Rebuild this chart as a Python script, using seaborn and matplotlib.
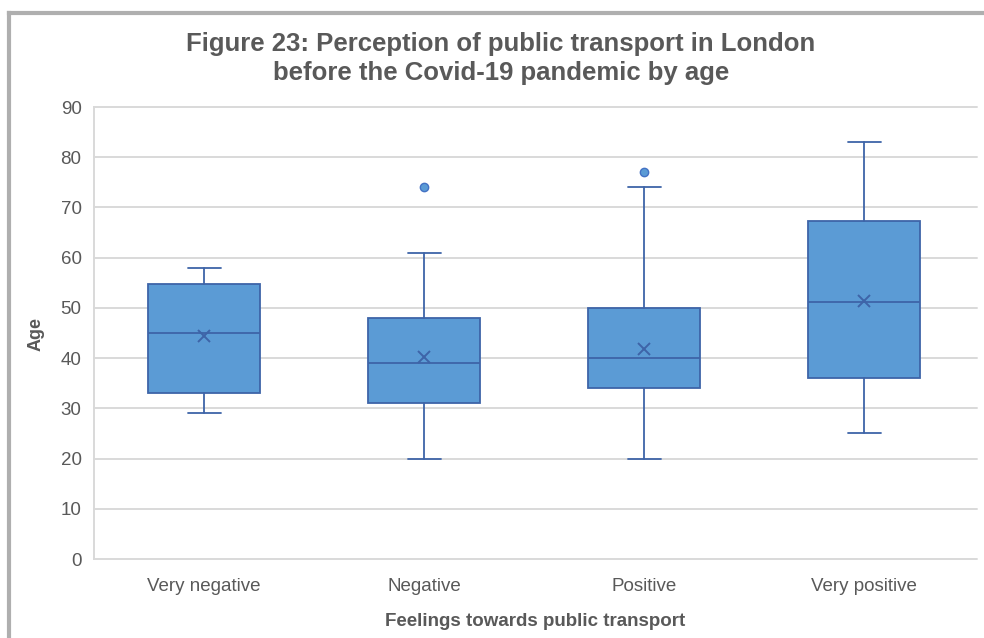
import numpy as np
import pandas as pd
import matplotlib
matplotlib.use("Agg")
import matplotlib.pyplot as plt
from matplotlib.lines import Line2D
import seaborn as sns

# Summary statistics of respondent age for each feeling category
categories = ["Very negative", "Negative", "Positive", "Very positive"]
whisker_low = [29, 20, 20, 25]
q1 = [33, 31, 34, 36]
median = [45, 39, 40, 51.25]
q3 = [54.75, 48, 50, 67.25]
whisker_high = [58, 61, 74, 83]
mean = [44.4, 40.2, 41.8, 51.4]
outliers = [[], [74], [77], []]

title = "Figure 23: Perception of public transport in London\nbefore the Covid-19 pandemic by age"
x_label = "Feelings towards public transport"
y_label = "Age"
y_ticks = list(range(0, 91, 10))

FILL = "#5B9BD5"
EDGE = "#3E64A8"
TEXT = "#595959"
GRID = "#D9D9D9"

sns.set_theme(style="white")
plt.rcParams["font.family"] = ["Liberation Sans", "DejaVu Sans"]

W, H = 984, 638
fig = plt.figure(figsize=(W / 100, H / 100), dpi=100)
ax = fig.add_axes([94 / W, 1 - 559 / H, (974 - 94) / W, (559 - 107) / H])

stats = pd.DataFrame({
    "category": categories,
    "whislo": whisker_low,
    "q1": q1,
    "med": median,
    "q3": q3,
    "whishi": whisker_high,
    "mean": mean,
})

# Box-and-whisker elements built from the summary table
bxp_stats = [
    {"label": r.category, "whislo": r.whislo, "q1": r.q1, "med": r.med,
     "q3": r.q3, "whishi": r.whishi, "fliers": np.array(f, dtype=float)}
    for r, f in zip(stats.itertuples(), outliers)
]
ax.bxp(
    bxp_stats,
    positions=range(len(categories)),
    widths=0.505,
    patch_artist=True,
    showfliers=True,
    boxprops=dict(facecolor=FILL, edgecolor=EDGE, linewidth=1.3),
    medianprops=dict(color=EDGE, linewidth=1.3),
    whiskerprops=dict(color=EDGE, linewidth=1.3),
    capprops=dict(color=EDGE, linewidth=1.3),
    capwidths=0.15,
    flierprops=dict(marker="o", markerfacecolor=FILL, markeredgecolor="#4472C4",
                    markersize=6, markeredgewidth=1.0),
    zorder=3,
)

# Mean markers
sns.pointplot(
    data=stats, x="category", y="mean", order=categories,
    linestyle="none", marker="x", markersize=9, markeredgewidth=1.4,
    color=EDGE, errorbar=None, ax=ax, zorder=5,
)
for coll in ax.collections:
    coll.set_zorder(5)

ax.set_xlim(-0.5, len(categories) - 0.5)
ax.set_ylim(0, 90)
ax.set_yticks(y_ticks)
ax.set_xticks(range(len(categories)))
ax.set_xticklabels(categories)

# Horizontal gridlines, running slightly past the last category
for yv in y_ticks:
    ax.plot([-0.5, 3.515], [yv, yv], color=GRID, linewidth=1.4, zorder=0,
            clip_on=False)
ax.set_xlim(-0.5, len(categories) - 0.5)

for side in ["top", "right", "bottom"]:
    ax.spines[side].set_visible(False)
ax.spines["left"].set_color(GRID)
ax.spines["left"].set_linewidth(1.4)

ax.tick_params(axis="both", length=0, labelsize=13.5, labelcolor=TEXT)
ax.tick_params(axis="y", pad=9)
ax.tick_params(axis="x", pad=13.5)

ax.set_xlabel(x_label, fontsize=13.5, fontweight="bold", color=TEXT)
ax.set_ylabel(y_label, fontsize=13, fontweight="bold", color=TEXT)
ax.xaxis.set_label_coords((535 - 94) / (974 - 94), -(613 - 559) / (559 - 107))
ax.yaxis.set_label_coords(-(94 - 45) / (974 - 94), (559 - 334) / (559 - 107))

fig.text(501 / W, 1 - 58.5 / H, title, ha="center", va="center",
         fontsize=18.5, fontweight="bold", color=TEXT, linespacing=1.27)

# Chart-area frame
frame_kw = dict(color="#AFAFAF", linewidth=3.0, transform=fig.transFigure,
                solid_capstyle="projecting")
fig.add_artist(Line2D([9 / W, 1.0], [1 - 13 / H, 1 - 13 / H], **frame_kw))
fig.add_artist(Line2D([9 / W, 9 / W], [1 - 13 / H, 0.0], **frame_kw))

fig.savefig("out.png", dpi=100)
